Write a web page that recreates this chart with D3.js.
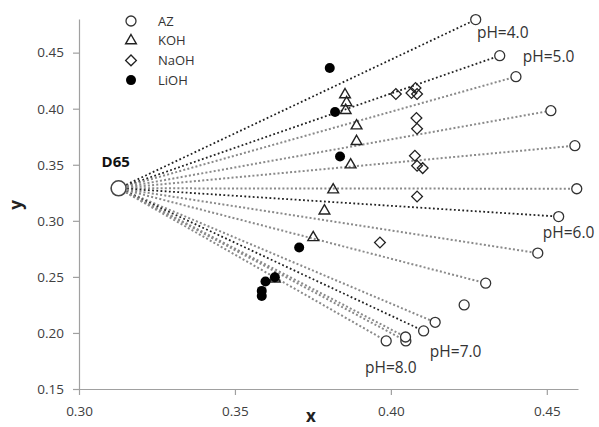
<!DOCTYPE html>
<html><head><meta charset="utf-8">
<script src="https://cdn.jsdelivr.net/npm/d3@7"></script>
<style>
body{margin:0;background:#fff;}
svg{display:block;font-family:"Open Sans",sans-serif;}
</style></head>
<body>
<svg id="c" width="599" height="427"></svg>
<script>
// ---- data ----
const d65 = [0.3127, 0.3290];
const azX = [0.4272,0.4349,0.4401,0.4513,0.4590,0.4596,0.4538,0.4471,0.4304,0.4235,0.4142,0.4105,0.4048,0.4047,0.3985];
const azY = [0.4795,0.4473,0.4286,0.3982,0.3670,0.3286,0.3038,0.2712,0.2444,0.2250,0.2095,0.2018,0.1929,0.1964,0.1929];
// lines from D65 to AZ points (index) and their tone (0 dark, 1 light)
const lineTo   = [0,1,2,3,4,5,6,7,8,10,11,12,13,14];
const lineTone = [0,0,1,1,1,1,0,1,1,1,0,1,1,1];
const kohX = [0.3853,0.3858,0.3855,0.3890,0.3890,0.3871,0.3815,0.3787,0.3751,0.3628];
const kohY = [0.4125,0.4054,0.3985,0.3848,0.3708,0.3500,0.3277,0.3089,0.2851,0.2482];
const naohX = [0.4016,0.4066,0.4079,0.4084,0.4082,0.4084,0.4077,0.4084,0.4102,0.4084,0.3965];
const naohY = [0.4131,0.4140,0.4185,0.4131,0.3917,0.3821,0.3580,0.3491,0.3470,0.3217,0.2806];
const liohX = [0.3804,0.3821,0.3837,0.3706,0.3628,0.3598,0.3586,0.3586];
const liohY = [0.4363,0.3971,0.3574,0.2762,0.2497,0.2458,0.2375,0.2330];
const phText = ["pH=4.0","pH=5.0","pH=6.0","pH=7.0","pH=8.0"];
const phX = [0.4276,0.4423,0.4487,0.4125,0.3917];
const phY = [0.4634,0.4420,0.2848,0.1786,0.1643];
const xTicks = [0.30,0.35,0.40,0.45];
const yTicks = [0.15,0.20,0.25,0.30,0.35,0.40,0.45];
const legendNames = ["AZ","KOH","NaOH","LiOH"];

// ---- layout ----
const W=599,H=427, m={l:79,r:21,t:19,b:38};
const svg=d3.select("#c");
const x=d3.scaleLinear().domain([0.30,0.46]).range([m.l,W-m.r]);
const y=d3.scaleLinear().domain([0.15,0.48]).range([H-m.b,m.t]);
const axisCol="#a0a0a0", txtCol="#404040";

const gx=svg.append("g").attr("transform",`translate(0,${H-m.b})`)
  .call(d3.axisBottom(x).tickValues(xTicks).tickFormat(d3.format(".2f")).tickSize(6).tickSizeOuter(0).tickPadding(11));
const gy=svg.append("g").attr("transform",`translate(${m.l},0)`)
  .call(d3.axisLeft(y).tickValues(yTicks).tickFormat(d3.format(".2f")).tickSize(6).tickSizeOuter(0).tickPadding(9));
[gx,gy].forEach(g=>{
  g.selectAll("path,line").attr("stroke",axisCol).attr("stroke-width",1.2);
  g.selectAll("text").attr("fill",txtCol).style("font-size","13.5px").style("font-family","Open Sans");
});

// axis titles
svg.append("text").attr("x",311).attr("y",422).attr("text-anchor","middle")
  .style("font-size","17px").style("font-weight","bold").attr("fill","#222").text("x");
svg.append("text").attr("transform","translate(22,205) rotate(-90)").attr("text-anchor","middle")
  .style("font-size","17px").style("font-weight","bold").attr("fill","#222").text("y");

// lines
const lines=svg.append("g");
lineTo.forEach((k,i)=>{
  lines.append("line").attr("x1",x(d65[0])).attr("y1",y(d65[1]))
    .attr("x2",x(azX[k])).attr("y2",y(azY[k]))
    .attr("stroke",lineTone[i]===0?"#222":"#8a8a8a")
    .attr("stroke-width",lineTone[i]===0?1.8:2)
    .attr("stroke-dasharray",lineTone[i]===0?"1.8,2.4":"2,2.2");
});

const mk=svg.append("g");
// AZ circles
d3.range(azX.length).forEach(i=>{
  mk.append("circle").attr("cx",x(azX[i])).attr("cy",y(azY[i])).attr("r",5)
    .attr("fill","#fff").attr("stroke","#333").attr("stroke-width",1.3);
});
// KOH triangles
const tri=d3.symbol().type(d3.symbolTriangle).size(50);
d3.range(kohX.length).forEach(i=>{
  mk.append("path").attr("d",tri()).attr("transform",`translate(${x(kohX[i])},${y(kohY[i])})`)
    .attr("fill","none").attr("stroke","#222").attr("stroke-width",1.4);
});
// NaOH diamonds
const dia=d3.symbol().type(d3.symbolSquare).size(58);
d3.range(naohX.length).forEach(i=>{
  mk.append("path").attr("d",dia()).attr("transform",`translate(${x(naohX[i])},${y(naohY[i])}) rotate(45)`)
    .attr("fill","none").attr("stroke","#222").attr("stroke-width",1.3);
});
// LiOH dots
d3.range(liohX.length).forEach(i=>{
  mk.append("circle").attr("cx",x(liohX[i])).attr("cy",y(liohY[i])).attr("r",5).attr("fill","#000");
});
// D65
svg.append("circle").attr("cx",x(d65[0])).attr("cy",y(d65[1])).attr("r",7.5)
  .attr("fill","#fff").attr("stroke","#444").attr("stroke-width",1.6);
svg.append("text").attr("x",x(d65[0])-17).attr("y",y(d65[1])-21)
  .style("font-size","15px").style("font-weight","bold").attr("fill","#111").text("D65");

// pH labels
phText.forEach((t,i)=>{
  svg.append("text").attr("x",x(phX[i])).attr("y",y(phY[i]))
    .style("font-size","15.5px").attr("fill","#333").text(t);
});

// legend
const lg=svg.append("g").attr("transform","translate(131,21)");
legendNames.forEach((n,i)=>{
  const g=lg.append("g").attr("transform",`translate(0,${i*19.7})`);
  if(i===0) g.append("circle").attr("r",5).attr("fill","none").attr("stroke","#333").attr("stroke-width",1.3);
  if(i===1) g.append("path").attr("d",tri()).attr("fill","none").attr("stroke","#222").attr("stroke-width",1.4);
  if(i===2) g.append("path").attr("d",dia()).attr("transform","rotate(45)").attr("fill","none").attr("stroke","#222").attr("stroke-width",1.3);
  if(i===3) g.append("circle").attr("r",5).attr("fill","#000");
  g.append("text").attr("x",27).attr("dy","0.35em").style("font-size","13px").attr("fill","#333").text(n);
});
</script>
</body></html>
